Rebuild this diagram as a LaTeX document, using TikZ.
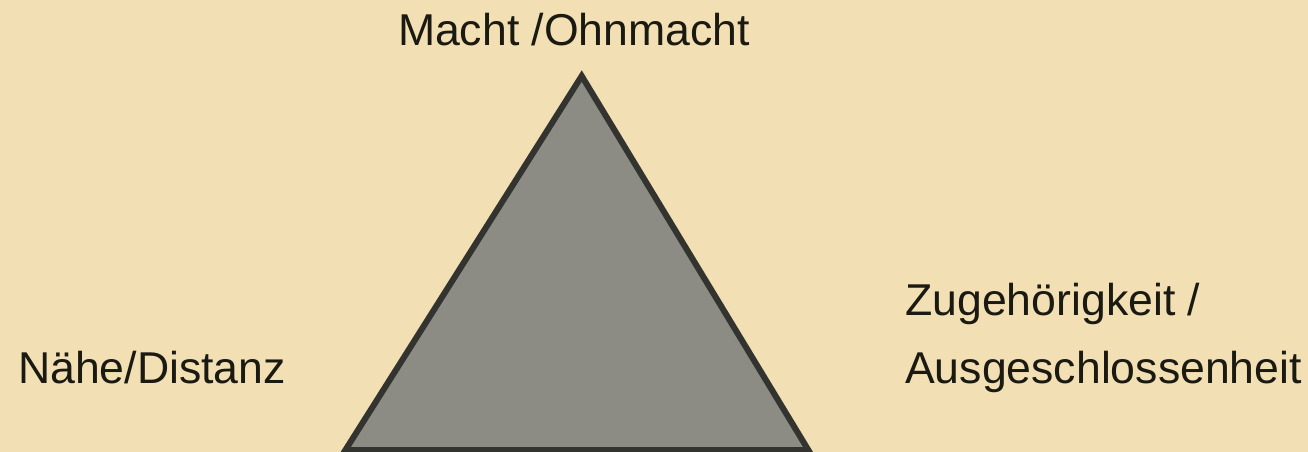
\documentclass[tikz,border=0pt]{standalone}
\usepackage{fontspec}
\setmainfont{Liberation Sans}
\definecolor{bg}{HTML}{F2DFB3}
\definecolor{trifill}{HTML}{8C8C85}
\definecolor{tristroke}{HTML}{333330}
\definecolor{txt}{HTML}{1A1A12}
\begin{document}
\begin{tikzpicture}[x=1pt,y=-1pt,
  lbl/.style={inner sep=0pt, text=txt, font=\fontsize{44.6}{68}\selectfont},
  tri/.style={fill=trifill, draw=tristroke, line width=6pt, line join=miter}]
\fill[bg] (0,0) rectangle (1308,452);
\useasboundingbox (0,0) rectangle (1308,452);
\coordinate (apex) at (581.7,76);
\coordinate (bl) at (345.4,450);
\coordinate (br) at (808.3,450);
\draw[tri] (apex) -- (br) -- (bl) -- cycle;
\node[lbl, anchor=base] (top) at (574,46) {Macht /Ohnmacht};
\node[lbl, anchor=base west] (left) at (18,383) {Nähe/Distanz};
\node[lbl, anchor=base west] (right1) at (905,315) {Zugehörigkeit /};
\node[lbl, anchor=base west] (right2) at (905,383) {Ausgeschlossenheit};
\end{tikzpicture}
\end{document}
